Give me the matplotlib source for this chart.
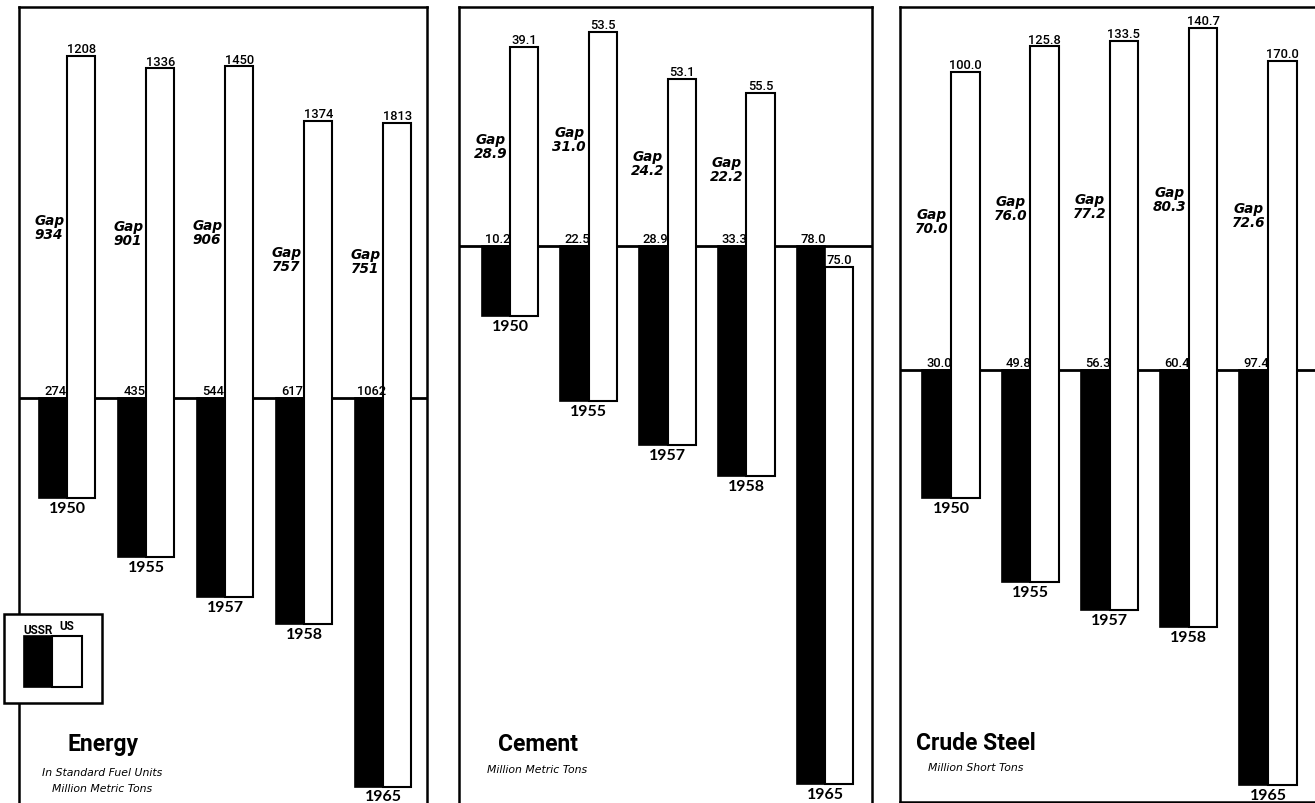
import matplotlib.pyplot as plt
from matplotlib.patches import Rectangle

years = ["1950", "1955", "1957", "1958", "1965"]

energy_ussr = [274, 435, 544, 617, 1062]
energy_us = [1208, 1336, 1450, 1374, 1813]
energy_gap = ["934", "901", "906", "757", "751"]

cement_ussr = [10.2, 22.5, 28.9, 33.3, 78.0]
cement_us = [39.1, 53.5, 53.1, 55.5, 75.0]
cement_gap = ["28.9", "31.0", "24.2", "22.2", ""]

steel_ussr = [30.0, 49.8, 56.3, 60.4, 97.4]
steel_us = [100.0, 125.8, 133.5, 140.7, 170.0]
steel_gap = ["70.0", "76.0", "77.2", "80.3", "72.6"]

W, H = 1315, 804
NARROW = "Roboto"

fig = plt.figure(figsize=(W / 100, H / 100), dpi=100)


def panel(left, right, top, bottom, first, step, base, ppu, ussr, us, gaps, fmt):
    ax = fig.add_axes([left / W, 1 - bottom / H, (right - left) / W, (bottom - top) / H])
    ax.set_xlim((left - first) / step, (right - first) / step)
    ax.set_ylim(-(bottom - base) / ppu, (base - top) / ppu)
    ax.set_xticks([])
    ax.set_yticks([])
    for s in ax.spines.values():
        s.set_linewidth(1.8)
    ax.axhline(0, color="black", lw=2, zorder=1)
    w = 0.36
    for i in range(len(years)):
        top_us = us[i] - ussr[i]
        ax.bar(i - w / 2, -ussr[i], width=w, color="black", edgecolor="black", lw=1.2, zorder=2)
        ax.bar(i + w / 2, us[i], bottom=-ussr[i], width=w, color="white",
               edgecolor="black", lw=1.5, zorder=3)
        ax.annotate(fmt.format(us[i]), (i + w / 2, top_us), xytext=(0, 0.5),
                    textcoords="offset points", ha="center", va="bottom",
                    family=NARROW, fontsize=9.3, fontweight="medium", zorder=4)
        ax.annotate(fmt.format(ussr[i]), (i - w / 2 + 0.03, 0), xytext=(0, 1),
                    textcoords="offset points", ha="center", va="bottom",
                    family=NARROW, fontsize=9.3, fontweight="medium", zorder=4)
        ax.annotate(years[i], (i, -ussr[i]), xytext=(0, -2),
                    textcoords="offset points", ha="center", va="top",
                    family="Lato", fontweight="bold", fontsize=11.5)
        if gaps[i]:
            ax.annotate("Gap\n" + gaps[i], (i, top_us / 2), xytext=(-2, 0),
                        textcoords="offset points", ha="right", va="center",
                        multialignment="center", fontsize=9.8, style="italic",
                        fontweight="bold", linespacing=1.0)
    return ax


panel(19, 427, 8, 806, 67, 79, 399, 0.366, energy_ussr, energy_us, energy_gap, "{:.0f}")
panel(459, 872, 8, 806, 510, 78.75, 247, 6.9, cement_ussr, cement_us, cement_gap, "{:.1f}")
panel(900, 1330, 8, 803, 951, 79.25, 371, 4.26, steel_ussr, steel_us, steel_gap, "{:.1f}")

# legend box on the energy panel
fig.add_artist(Rectangle((4 / W, 1 - 704 / H), 98 / W, 89 / H, transform=fig.transFigure,
                         facecolor="white", edgecolor="black", lw=1.8, zorder=10))
fig.add_artist(Rectangle((24 / W, 1 - 688 / H), 28 / W, 51 / H, transform=fig.transFigure,
                         facecolor="black", edgecolor="black", lw=1.2, zorder=11))
fig.add_artist(Rectangle((52 / W, 1 - 688 / H), 30 / W, 51 / H, transform=fig.transFigure,
                         facecolor="white", edgecolor="black", lw=1.5, zorder=11))
fig.text(38 / W, 1 - 637 / H, "USSR", ha="center", va="bottom", family=NARROW,
         fontsize=8.5, fontweight="bold", zorder=12)
fig.text(67 / W, 1 - 633 / H, "US", ha="center", va="bottom", family=NARROW,
         fontsize=8.5, fontweight="bold", zorder=12)

# panel titles
fig.text(103 / W, 1 - 745 / H, "Energy", ha="center", va="center", family=NARROW,
         fontsize=16.5, fontweight="bold")
fig.text(102 / W, 1 - 773 / H, "In Standard Fuel Units", ha="center", va="center",
         fontsize=7.8, style="italic")
fig.text(102 / W, 1 - 789 / H, "Million Metric Tons", ha="center", va="center",
         fontsize=7.8, style="italic")
fig.text(538 / W, 1 - 745 / H, "Cement", ha="center", va="center", family=NARROW,
         fontsize=16.5, fontweight="bold")
fig.text(537 / W, 1 - 770 / H, "Million Metric Tons", ha="center", va="center",
         fontsize=7.8, style="italic")
fig.text(976 / W, 1 - 744 / H, "Crude Steel", ha="center", va="center", family=NARROW,
         fontsize=16.5, fontweight="bold")
fig.text(976 / W, 1 - 768 / H, "Million Short Tons", ha="center", va="center",
         fontsize=7.8, style="italic")

fig.savefig("out.png", dpi=100)
